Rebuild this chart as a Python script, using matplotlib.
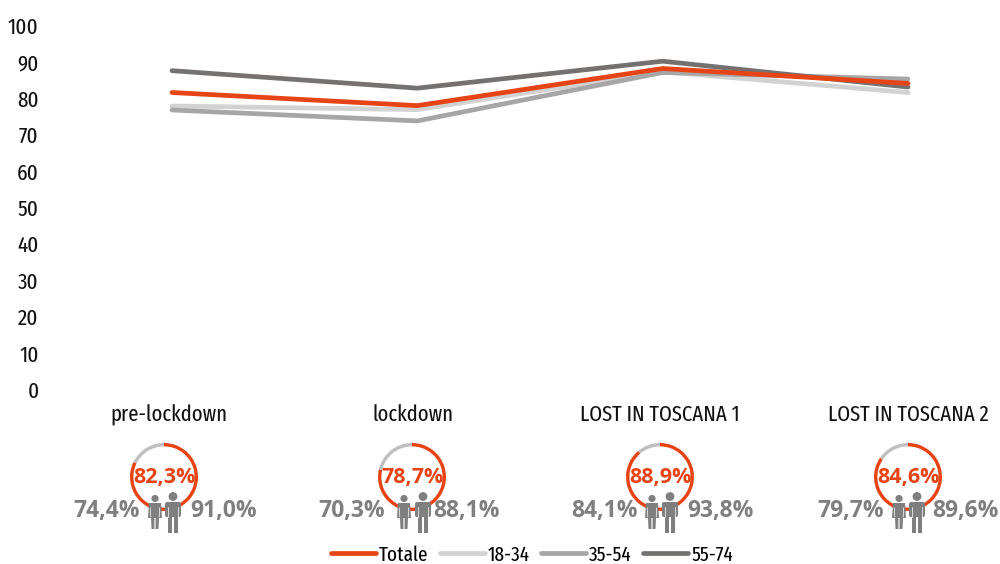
import matplotlib
matplotlib.use("Agg")
import matplotlib.pyplot as plt
from matplotlib import font_manager
from matplotlib.patches import Circle, Polygon, FancyBboxPatch
from matplotlib.transforms import ScaledTranslation

periods = ["pre-lockdown", "lockdown", "LOST IN TOSCANA 1", "LOST IN TOSCANA 2"]
totale = [82.0, 78.4, 88.6, 84.5]
eta_18_34 = [78.3, 77.3, 87.7, 82.0]
eta_35_54 = [77.2, 74.2, 87.5, 85.7]
eta_55_74 = [88.0, 83.2, 90.6, 83.5]
yticks = [0, 10, 20, 30, 40, 50, 60, 70, 80, 90, 100]

ring_values = [82.3, 78.7, 88.9, 84.6]
women = [74.4, 70.3, 84.1, 79.7]
men = [91.0, 88.1, 93.8, 89.6]

ORANGE = "#e64415"
LIGHT = "#d2d2d2"
MID = "#a6a6a6"
DARK = "#767171"
ICON = "#7f7f7f"

# a condensed face if there is one, otherwise the narrowest of the usual ones
names = {f.name for f in font_manager.fontManager.ttflist}
narrow = "Noto Sans CJK SC"
for c in ["Fira Sans Extra Condensed", "PT Sans Narrow", "Fira Sans Condensed", "Roboto Condensed"]:
    if c in names:
        narrow = c
        break


def fmt(v):
    return f"{v:.1f}%".replace(".", ",")


fig = plt.figure(figsize=(10, 5.64), dpi=100)

# main chart, placed so that 0 and 100 land where they do in the picture
ax = fig.add_axes([172 / 1000, 1 - 391 / 564, (908 - 172) / 1000, (391 - 27) / 564])
ax.set_xlim(0, 3)
ax.set_ylim(0, 100)
xs = range(len(periods))
ax.plot(xs, eta_18_34, color=LIGHT, lw=3.4, label="18-34", solid_capstyle="round", clip_on=False)
ax.plot(xs, eta_35_54, color=MID, lw=3.4, label="35-54", solid_capstyle="round", clip_on=False)
ax.plot(xs, eta_55_74, color=DARK, lw=3.4, label="55-74", solid_capstyle="round", clip_on=False)
ax.plot(xs, totale, color=ORANGE, lw=3.4, label="Totale", solid_capstyle="round", clip_on=False)
for s in ax.spines.values():
    s.set_visible(False)
ax.set_xticks([])
ax.set_yticks(yticks)
ax.tick_params(axis="y", length=0, pad=96, labelsize=16.5)
# labels sit a little above their ticks in the original
nudge = ScaledTranslation(0, 1.5 / 100, fig.dpi_scale_trans)
for t in ax.get_yticklabels():
    t.set_family(narrow)
    t.set_color("#111111")
    t.set_transform(t.get_transform() + nudge)

# overlay in pixel units for the rings, icons and labels
ov = fig.add_axes([0, 0, 1, 1], facecolor="none")
ov.set_xlim(0, 1000)
ov.set_ylim(564, 0)
ov.axis("off")
ov.set_zorder(2)

label_x = [169, 413, 660, 908]
ring_x = [164, 412, 660, 908]
left_x = [107, 352, 605, 851]
right_x = [224, 467, 720, 965]
woman_x = [155, 404, 652, 899]
man_x = [173, 423, 670, 917]
ring_y = 477
R = 34


def woman(x):
    ov.add_patch(Circle((x, 498.5), 3.6, color=ICON, lw=0))
    ov.add_patch(Polygon([(x - 6, 503), (x + 6, 503), (x + 7, 518), (x + 4, 518), (x + 3.5, 529),
                          (x + 0.6, 529), (x + 0.6, 518), (x - 0.6, 518), (x - 0.6, 529), (x - 3.5, 529),
                          (x - 4, 518), (x - 7, 518)], color=ICON, lw=0))
    ov.plot([x - 4.6, x - 4.2], [508, 517], color="white", lw=0.5)
    ov.plot([x + 4.6, x + 4.2], [508, 517], color="white", lw=0.5)


def man(x):
    ov.add_patch(Circle((x, 496.5), 4.4, color=ICON, lw=0))
    ov.add_patch(FancyBboxPatch((x - 8, 502), 16, 15, boxstyle="round,pad=0,rounding_size=2", color=ICON, lw=0))
    ov.add_patch(Polygon([(x - 5, 510), (x + 5, 510), (x + 5, 533), (x + 0.6, 533), (x + 0.6, 516),
                          (x - 0.6, 516), (x - 0.6, 533), (x - 5, 533)], color=ICON, lw=0))
    ov.plot([x - 5.2, x - 5.2], [507, 517], color="white", lw=0.5)
    ov.plot([x + 5.2, x + 5.2], [507, 517], color="white", lw=0.5)


for i in range(4):
    ov.text(label_x[i], 415, periods[i], ha="center", va="center", fontsize=16.2, family=narrow, color="#111111")

    ins = fig.add_axes([(ring_x[i] - R) / 1000, 1 - (ring_y + R) / 564, 2 * R / 1000, 2 * R / 564])
    ins.pie([ring_values[i], 100 - ring_values[i]], colors=[ORANGE, "#bfbfbf"], startangle=90,
            counterclock=False, radius=1, wedgeprops={"width": 0.1, "lw": 0})
    ins.set_xlim(-1, 1)
    ins.set_ylim(-1, 1)
    ins.set_zorder(1)

    ov.text(ring_x[i], 478, fmt(ring_values[i]), ha="center", va="center", fontsize=15.5, fontweight="bold",
            family="Open Sans", color=ORANGE)
    ov.text(left_x[i], 511, fmt(women[i]), ha="center", va="center", fontsize=16.5, fontweight="bold",
            family="Open Sans", color=ICON)
    ov.text(right_x[i], 511, fmt(men[i]), ha="center", va="center", fontsize=16.5, fontweight="bold",
            family="Open Sans", color=ICON)
    woman(woman_x[i])
    man(man_x[i])

h, l = ax.get_legend_handles_labels()
order = [3, 0, 1, 2]
fig.legend([h[k] for k in order], [l[k] for k in order], loc="center", bbox_to_anchor=(0.532, 1 - 555 / 564),
           ncol=4, frameon=False, prop={"family": narrow, "size": 15}, handlelength=2.15, handletextpad=0.15,
           columnspacing=0.55, borderpad=0)

fig.savefig("out.png", dpi=100)
